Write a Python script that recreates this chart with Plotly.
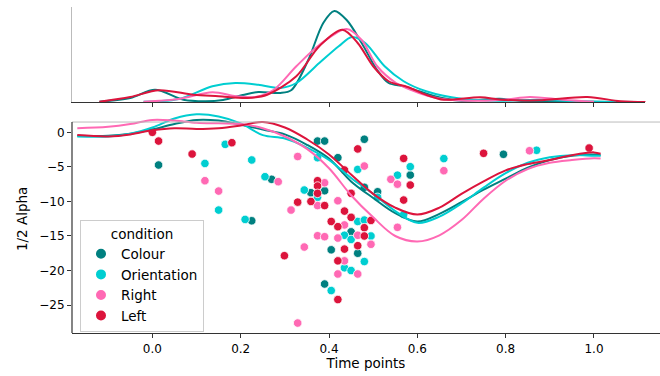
import plotly.graph_objects as go

conditions = ["Colour", "Orientation", "Right", "Left"]
colors = {"Colour": "#008080", "Orientation": "#00CED1", "Right": "#FF69B4", "Left": "#DC143C"}

# scatter points (time, alpha)
colour_x = [0.014, 0.225, 0.27, 0.374, 0.39, 0.48, 0.42, 0.39, 0.359, 0.48, 0.51, 0.45, 0.405, 0.465, 0.39, 0.584, 0.795]
colour_y = [-4.73, -12.8, -6.8, -1.26, -1.26, -1.0, -3.67, -8.45, -8.74, -7.96, -8.6, -14.4, -17.0, -17.5, -21.95, -6.18, -3.18]

orient_x = [0.119, 0.15, 0.165, 0.225, 0.21, 0.255, 0.374, 0.465, 0.344, 0.374, 0.51, 0.555, 0.584, 0.465, 0.48,
            0.435, 0.495, 0.45, 0.48, 0.435, 0.45, 0.405, 0.569, 0.66, 0.87]
orient_y = [-4.5, -11.25, -1.74, -4.0, -12.6, -6.42, -3.67, -5.36, -8.35, -9.4, -9.4, -6.2, -4.97, -12.9, -12.7,
            -14.9, -15.0, -15.5, -18.7, -19.6, -20.0, -22.9, -11.9, -3.8, -2.6]

right_x = [0.119, 0.15, 0.285, 0.329, 0.39, 0.374, 0.314, 0.42, 0.48, 0.54, 0.555, 0.435, 0.555, 0.465, 0.374,
           0.39, 0.42, 0.344, 0.495, 0.435, 0.42, 0.465, 0.329, 0.66, 0.854]
right_y = [-7.0, -8.5, -7.14, -3.5, -7.3, -10.6, -11.25, -9.9, -4.88, -6.8, -7.5, -13.4, -13.75, -14.9, -14.96,
           -15.1, -15.3, -16.6, -16.2, -18.6, -20.5, -20.5, -27.6, -5.55, -2.66]

left_x = [0.0, 0.014, 0.09, 0.18, 0.465, 0.435, 0.374, 0.374, 0.374, 0.359, 0.329, 0.39, 0.45, 0.569, 0.569, 0.584,
          0.435, 0.45, 0.405, 0.42, 0.495, 0.48, 0.48, 0.465, 0.435, 0.299, 0.42, 0.42, 0.75, 0.989]
left_y = [0.0, -1.26, -3.14, -1.5, -2.4, -5.45, -7.0, -7.77, -8.83, -10.0, -10.1, -10.6, -8.83, -3.77, -9.8, -7.63,
          -11.4, -12.3, -12.9, -13.65, -12.75, -13.8, -15.0, -16.4, -16.9, -17.85, -18.6, -24.2, -3.04, -2.27]

# time-course curves
curve_t = [-0.17, -0.1, -0.05, 0.0, 0.05, 0.1, 0.15, 0.2, 0.25, 0.3, 0.35, 0.4, 0.45, 0.5, 0.55, 0.6, 0.65,
           0.7, 0.75, 0.8, 0.85, 0.9, 0.95, 1.0, 1.015]
curve_colour = [-0.5, -0.5, -0.2, 0.4, 1.2, 1.8, 1.7, 1.1, 0.4, -0.3, -1.8, -3.8, -7.1, -9.5, -11.7, -12.9, -11.8,
                -10.1, -8.3, -6.7, -5.1, -4.0, -3.4, -3.2, -3.3]
curve_orient = [-0.6, -0.6, -0.2, 0.7, 2.0, 2.6, 2.3, 1.3, -0.4, -0.9, -2.2, -4.0, -6.6, -8.9, -11.4, -13.1, -12.2,
                -10.3, -8.0, -5.9, -4.4, -3.6, -3.3, -3.4, -3.4]
curve_right = [0.6, 0.8, 1.2, 1.8, 1.7, 1.4, 1.3, 1.2, 0.6, -0.6, -2.4, -5.2, -9.1, -12.3, -15.0, -15.8, -14.9,
               -12.7, -9.6, -7.0, -5.3, -4.4, -4.0, -3.75, -3.8]
curve_left = [-0.4, -0.6, -0.3, 0.3, 0.6, 0.5, 0.6, 1.0, 1.5, 0.7, -1.0, -3.2, -6.1, -8.9, -10.9, -11.9, -10.9,
              -8.9, -7.1, -5.5, -4.6, -4.0, -3.3, -2.9, -3.1]

# marginal density of time points
kde_colour_x = [-0.12, -0.05, 0.006, 0.07, 0.12, 0.16, 0.205, 0.24, 0.29, 0.315, 0.353, 0.387, 0.412, 0.44,
                0.474, 0.509, 0.535, 0.569, 0.604, 0.656, 0.7, 0.786, 0.83, 0.9, 1.0, 1.1]
kde_colour_y = [0.01, 0.16, 0.49, 0.09, 0.03, 0.08, 0.28, 0.40, 0.36, 0.48, 1.68, 3.16, 3.64, 3.28,
                2.36, 1.28, 0.76, 0.63, 0.43, 0.16, 0.05, 0.13, 0.05, 0.02, 0.01, 0.0]
kde_orient_x = [-0.02, 0.06, 0.136, 0.188, 0.24, 0.29, 0.326, 0.378, 0.422, 0.452, 0.482, 0.526, 0.569,
                0.62, 0.7, 0.786, 0.873, 0.96, 1.05]
kde_orient_y = [0.01, 0.12, 0.63, 0.76, 0.69, 0.56, 0.76, 1.56, 2.23, 2.60, 2.36, 1.43, 0.83,
                0.43, 0.13, 0.05, 0.09, 0.03, 0.0]
kde_right_x = [-0.02, 0.06, 0.136, 0.19, 0.233, 0.275, 0.326, 0.378, 0.44, 0.474, 0.509, 0.552, 0.604,
               0.656, 0.743, 0.8, 0.855, 0.93, 1.0]
kde_right_y = [0.01, 0.12, 0.39, 0.23, 0.20, 0.49, 1.43, 2.28, 2.92, 2.48, 1.43, 0.76, 0.36,
               0.12, 0.05, 0.10, 0.20, 0.09, 0.01]
kde_left_x = [-0.12, -0.05, 0.015, 0.093, 0.15, 0.216, 0.26, 0.326, 0.378, 0.43, 0.465, 0.5, 0.535, 0.578,
              0.62, 0.66, 0.743, 0.79, 0.875, 0.985, 1.06, 1.12]
kde_left_y = [0.01, 0.20, 0.47, 0.29, 0.23, 0.16, 0.29, 1.03, 2.23, 2.89, 2.36, 1.43, 0.83, 0.60,
              0.29, 0.09, 0.19, 0.09, 0.07, 0.20, 0.03, 0.0]

xticks = [0.0, 0.2, 0.4, 0.6, 0.8, 1.0]
yticks = [0, -5, -10, -15, -20, -25]

pts = {"Colour": (colour_x, colour_y), "Orientation": (orient_x, orient_y),
       "Right": (right_x, right_y), "Left": (left_x, left_y)}
curves = {"Colour": curve_colour, "Orientation": curve_orient, "Right": curve_right, "Left": curve_left}
kdes = {"Colour": (kde_colour_x, kde_colour_y), "Orientation": (kde_orient_x, kde_orient_y),
        "Right": (kde_right_x, kde_right_y), "Left": (kde_left_x, kde_left_y)}

FONT = "DejaVu Sans"
Y_TOP = 1.49      # top edge of the joint axes (data units)
Y_BOT = -29.04
fig = go.Figure()

for c in conditions:
    x, y = pts[c]
    fig.add_trace(go.Scatter(x=x, y=y, mode="markers", name=c, xaxis="x", yaxis="y",
                             marker=dict(color=colors[c], size=8.5, line=dict(color="white", width=0.8))))
for c in conditions:
    fig.add_trace(go.Scatter(x=curve_t, y=curves[c], mode="lines", showlegend=False, xaxis="x", yaxis="y",
                             line=dict(color=colors[c], width=2, shape="spline", smoothing=1.0)))
for c in conditions:
    kx, ky = kdes[c]
    fig.add_trace(go.Scatter(x=kx, y=ky, mode="lines", showlegend=False, xaxis="x2", yaxis="y2",
                             line=dict(color=colors[c], width=2, shape="spline", smoothing=0.9)))

# joint-axes frame: gray top edge and dark left spine
fig.add_shape(type="line", xref="paper", yref="y", x0=0, x1=1, y0=Y_TOP, y1=Y_TOP,
              line=dict(color="#BBBBBB", width=1))
fig.add_shape(type="line", xref="paper", yref="y", x0=0, x1=0, y0=Y_BOT, y1=Y_TOP,
              line=dict(color="#333333", width=1.2))

fig.update_layout(
    width=660, height=376, margin=dict(l=72, r=0, t=7, b=43),
    paper_bgcolor="white", plot_bgcolor="white",
    font=dict(family=FONT, size=12, color="black"),
    xaxis=dict(domain=[0, 1], range=[-0.182, 1.1495], tickvals=xticks, tickformat=".1f",
               showline=True, linecolor="#333333", linewidth=1.2, ticks="outside", ticklen=4,
               tickcolor="#333333", showgrid=False, zeroline=False,
               title=dict(text="Time points", font=dict(size=13.5), standoff=3)),
    yaxis=dict(domain=[0, 0.7003], range=[Y_BOT, 4.0], tickvals=yticks,
               showline=False, ticks="outside", ticklen=4,
               tickcolor="#333333", showgrid=False, zeroline=False,
               title=dict(text="1/2 Alpha", font=dict(size=13.5), standoff=8)),
    xaxis2=dict(domain=[0, 0.9753], range=[-0.182, 1.1167], tickvals=xticks, showticklabels=False,
                showline=True, linecolor="#333333", linewidth=1.2, ticks="outside", ticklen=4,
                tickcolor="#333333", showgrid=False, zeroline=False, anchor="y2"),
    yaxis2=dict(domain=[0.7086, 1], range=[0, 3.8], showticklabels=False, ticks="",
                showline=True, linecolor="#BBBBBB", linewidth=1, showgrid=False, zeroline=False, anchor="x2"),
    legend=dict(x=0.0136, y=0.3466, xanchor="left", yanchor="top",
                bgcolor="rgba(255,255,255,0.85)", bordercolor="#CCCCCC", borderwidth=1,
                font=dict(size=13.5), title=dict(text="condition", side="top center", font=dict(size=13.5)),
                itemsizing="constant", tracegroupgap=0),
)

fig.write_html("out.html")
